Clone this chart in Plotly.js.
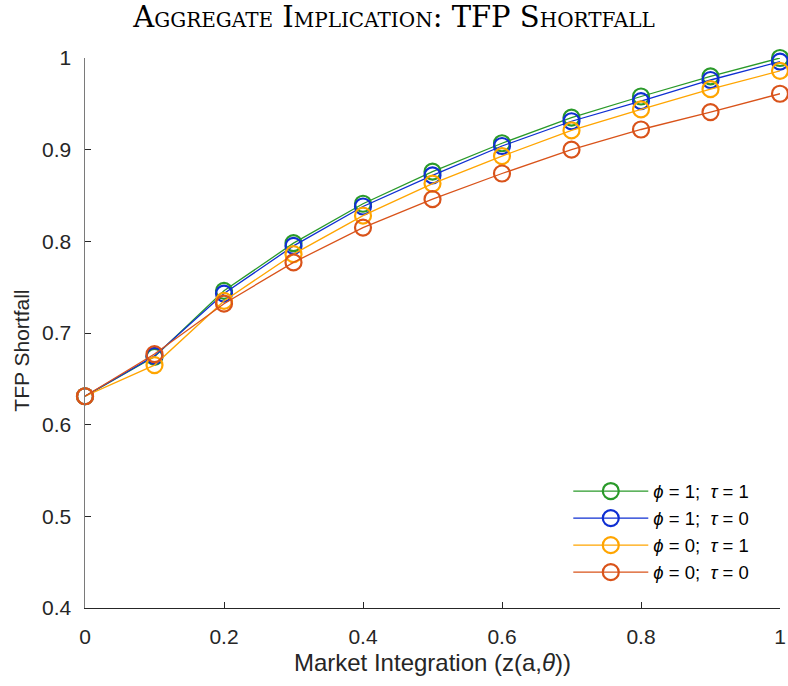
<!DOCTYPE html>
<html>
<head>
<meta charset="utf-8">
<script src="https://cdn.plot.ly/plotly-3.0.1.min.js"></script>
<style>html,body{margin:0;padding:0;background:#fff;}#chart{width:788px;height:686px;}</style>
</head>
<body>
<div id="chart"></div>
<script>
const xValues = [0, 0.1, 0.2, 0.3, 0.4, 0.5, 0.6, 0.7, 0.8, 0.9, 1.0];
const phi1tau1 = [0.631, 0.674, 0.746, 0.798, 0.841, 0.876, 0.907, 0.935, 0.958, 0.980, 1.000];
const phi1tau0 = [0.631, 0.675, 0.743, 0.795, 0.838, 0.872, 0.904, 0.931, 0.953, 0.976, 0.996];
const phi0tau1 = [0.631, 0.665, 0.735, 0.786, 0.828, 0.863, 0.893, 0.921, 0.944, 0.966, 0.986];
const phi0tau0 = [0.631, 0.677, 0.732, 0.777, 0.815, 0.846, 0.874, 0.900, 0.922, 0.941, 0.961];
const seriesNames = ['<i>ϕ</i> = 1;  <i>τ</i> = 1', '<i>ϕ</i> = 1;  <i>τ</i> = 0', '<i>ϕ</i> = 0;  <i>τ</i> = 1', '<i>ϕ</i> = 0;  <i>τ</i> = 0'];
const seriesColors = ['#2a9a2a', '#0f2fd2', '#ffa500', '#d9531a'];
const xTickVals = [0, 0.2, 0.4, 0.6, 0.8, 1];
const xTickText = ['0', '0.2', '0.4', '0.6', '0.8', '1'];
const yTickVals = [0.4, 0.5, 0.6, 0.7, 0.8, 0.9, 1];
const yTickText = ['0.4', '0.5', '0.6', '0.7', '0.8', '0.9', '1'];
const titleText = 'Aggregate Implication: TFP Shortfall';
const xTitleText = 'Market Integration (z(a,<i>θ</i>))';
const yTitleText = 'TFP Shortfall';

const allSeries = [phi1tau1, phi1tau0, phi0tau1, phi0tau0];
const traces = allSeries.map((ys, i) => ({
  x: xValues, y: ys, type: 'scatter', mode: 'lines+markers', name: seriesNames[i],
  cliponaxis: false,
  line: {color: seriesColors[i], width: 1.3},
  marker: {symbol: 'circle-open', size: 16, color: seriesColors[i], line: {width: 2.2, color: seriesColors[i]}}
}));

const sans = 'Liberation Sans, Arial, sans-serif';
const tickFont = {family: sans, size: 21, color: '#262626'};
const layout = {
  width: 788, height: 686,
  margin: {l: 85, r: 8, t: 58, b: 78},
  paper_bgcolor: '#fff', plot_bgcolor: '#fff',
  showlegend: true,
  title: {text: titleText, x: 0.5, xanchor: 'center', y: 0.99, yanchor: 'top',
    font: {family: 'DejaVu Serif, serif', size: 29, color: '#000', variant: 'small-caps'}},
  xaxis: {range: [0, 1], tickvals: xTickVals, ticktext: xTickText, ticks: 'inside', ticklen: 6, tickcolor: '#262626',
    showline: true, linecolor: '#262626', linewidth: 1, showgrid: false, zeroline: false, tickfont: tickFont,
    ticklabelstandoff: 10,
    title: {text: xTitleText, font: {family: sans, size: 24, color: '#262626'}, standoff: 6}},
  yaxis: {range: [0.4, 1], tickvals: yTickVals, ticktext: yTickText, ticks: 'inside', ticklen: 6, tickcolor: '#262626',
    showline: true, linecolor: '#7a7a7a', linewidth: 1.5, showgrid: false, zeroline: false, tickfont: tickFont,
    ticklabelstandoff: 8},
  annotations: [{text: yTitleText, xref: 'paper', yref: 'paper', x: -0.0906, y: 0.468, xanchor: 'center', yanchor: 'middle',
    textangle: -90, showarrow: false, font: {family: sans, size: 21, color: '#262626'}}],
  legend: {x: 0.963, xanchor: 'right', y: 0.03, yanchor: 'bottom', bgcolor: 'rgba(255,255,255,0)', borderwidth: 0,
    font: {family: sans, size: 18.5, color: '#000'}, tracegroupgap: 0, itemwidth: 75}
};
Plotly.newPlot('chart', traces, layout, {displayModeBar: false, staticPlot: true});
</script>
</body>
</html>
